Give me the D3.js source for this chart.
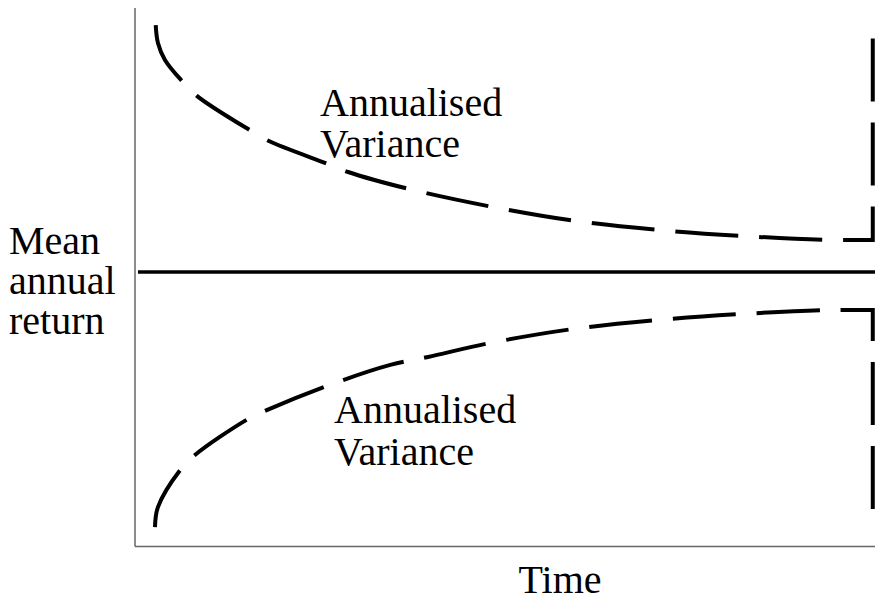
<!DOCTYPE html>
<html>
<head>
<meta charset="utf-8">
<script src="https://cdn.jsdelivr.net/npm/d3@7"></script>
<style>
  body { margin: 0; background: #fff; }
  text { font-family: "Liberation Serif", "Times New Roman", serif; fill: #000; }
</style>
</head>
<body>
<div id="chart"></div>
<script>
// Data (time 0-100, return offset from the mean, -100 to 100)
const upperTime = [2.8, 3.1, 4.05, 6.35, 8.4, 15.5, 18.1, 26.1, 28.8, 37.0, 48.4, 59.6, 70.9, 82.4, 93.9, 99.7];
const upperVar = [90.1, 83.6, 77.4, 69.7, 64.2, 51.8, 47.8, 39.4, 36.5, 30.3, 23.7, 18.6, 15.3, 13.1, 11.7, 11.7];
const lowerTime = [2.7, 3.1, 6.1, 8.1, 15.3, 17.8, 25.9, 34.5, 39.6, 48.0, 59.2, 70.7, 82.2, 93.6, 99.7];
const lowerVar = [-93.1, -85.8, -72.3, -66.8, -53.6, -50.4, -41.6, -33.9, -31.0, -25.9, -20.8, -17.5, -15.3, -13.9, -13.9];
const endTime = 99.7;
const upperEdge = 87.6, lowerEdge = -90.1;
const meanReturn = 0;

// Dimensions
let w = 875, h = 601;
let padLeft = 135, padRight = 875, padTop = 8, padBottom = 546.5;

let svg = d3.select("#chart").append("svg").attr("width", w).attr("height", h);

// Scales
let xScale = d3.scaleLinear().domain([0, 100]).range([padLeft, padRight]);
let yScale = d3.scaleLinear().domain([-100, 100]).range([546, -2]);

// Axes (plain lines, no ticks)
svg.append("line").attr("x1", padLeft).attr("x2", padLeft).attr("y1", padTop).attr("y2", padBottom)
  .attr("stroke", "#666").attr("stroke-width", 1.5);
svg.append("line").attr("x1", padLeft).attr("x2", padRight).attr("y1", padBottom).attr("y2", padBottom)
  .attr("stroke", "#666").attr("stroke-width", 1.5);

// Mean line
svg.append("line").attr("x1", xScale(0.4)).attr("x2", xScale(100))
  .attr("y1", yScale(meanReturn)).attr("y2", yScale(meanReturn))
  .attr("stroke", "#000").attr("stroke-width", 3.5);

// Variance envelopes: smooth curve, then straight edge at the end of time
let curve = d3.line().x((d) => xScale(d[0])).y((d) => yScale(d[1])).curve(d3.curveCatmullRom.alpha(0.5));
let straight = d3.line().x((d) => xScale(d[0])).y((d) => yScale(d[1]));

function envelope(times, vals, edge) {
  let pts = times.map((t, i) => [t, vals[i]]);
  let tail = straight([[endTime, vals[vals.length - 1]], [endTime, edge]]).replace(/^M/, "L");
  return curve(pts) + tail;
}

svg.append("path").attr("d", envelope(upperTime, upperVar, upperEdge))
  .attr("fill", "none").attr("stroke", "#000").attr("stroke-width", 4).attr("stroke-dasharray", "63,21");
svg.append("path").attr("d", envelope(lowerTime, lowerVar, lowerEdge))
  .attr("fill", "none").attr("stroke", "#000").attr("stroke-width", 4).attr("stroke-dasharray", "63,21");

// Labels
const fs = 40;
let upperLabel = svg.append("text").attr("x", 320).attr("y", 116).style("font-size", fs + "px");
upperLabel.append("tspan").attr("x", 320).text("Annualised");
upperLabel.append("tspan").attr("x", 320).attr("dy", 41).text("Variance");

let lowerLabel = svg.append("text").attr("x", 334).attr("y", 423).style("font-size", fs + "px");
lowerLabel.append("tspan").attr("x", 334).text("Annualised");
lowerLabel.append("tspan").attr("x", 334).attr("dy", 42).text("Variance");

let yLabel = svg.append("text").attr("x", 9).attr("y", 254).style("font-size", fs + "px");
["Mean", "annual", "return"].forEach((s, i) => {
  yLabel.append("tspan").attr("x", 9).attr("dy", i == 0 ? 0 : 40).text(s);
});

svg.append("text").attr("x", 560).attr("y", 593).attr("text-anchor", "middle")
  .style("font-size", fs + "px").text("Time");
</script>
</body>
</html>
